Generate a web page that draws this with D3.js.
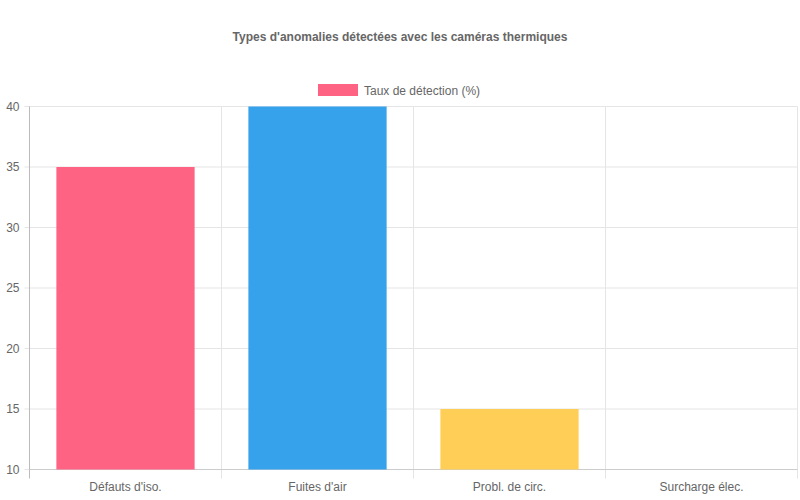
<!DOCTYPE html>
<html><head><meta charset="utf-8">
<script src="https://cdn.jsdelivr.net/npm/d3@7"></script>
<style>body{margin:0;background:#fff}svg{display:block}text{font-family:"Liberation Sans",Arial,sans-serif}</style>
</head><body><svg id="c" width="800" height="500"></svg>
<script>
const categories = ["Défauts d'iso.", "Fuites d'air", "Probl. de circ.", "Surcharge élec."];
const values = [35, 40, 15, 10];
const colors = ["#FF6384", "#36A2EB", "#FFCE56", "#4BC0C0"];
const yTicks = [10, 15, 20, 25, 30, 35, 40];
const title = "Types d'anomalies détectées avec les caméras thermiques";
const legendLabel = "Taux de détection (%)";

const svg = d3.select("#c");
const L = 29.5, R = 797.5, T = 106.5, B = 469.5;
const x = d3.scaleBand().domain(categories).range([L, R]);
const y = d3.scaleLinear().domain([10, 40]).range([B, T]);

// grid
const g = svg.append("g");
yTicks.forEach(t => {
  g.append("line").attr("x1", L - 5).attr("x2", R).attr("y1", y(t)).attr("y2", y(t))
    .attr("stroke", "#e5e5e5").attr("stroke-width", 1);
});
categories.forEach((c, i) => {
  const xx = x(c) + x.bandwidth();
  g.append("line").attr("x1", xx).attr("x2", xx).attr("y1", T).attr("y2", B + 9)
    .attr("stroke", "#e5e5e5").attr("stroke-width", 1);
});
g.append("line").attr("x1", L).attr("x2", L).attr("y1", T).attr("y2", B + 9).attr("stroke", "#bbb");
g.append("line").attr("x1", L).attr("x2", R).attr("y1", B).attr("y2", B).attr("stroke", "#ccc");

// bars
const bw = x.bandwidth() * 0.72;
svg.append("g").selectAll("rect").data(values).join("rect")
  .attr("x", (d, i) => x(categories[i]) + (x.bandwidth() - bw) / 2)
  .attr("width", bw)
  .attr("y", d => y(d))
  .attr("height", d => B - y(d))
  .attr("fill", (d, i) => colors[i]);

// y labels
svg.append("g").selectAll("text").data(yTicks).join("text")
  .attr("x", L - 10).attr("y", d => y(d)).attr("dy", "0.35em")
  .attr("text-anchor", "end").attr("font-size", 12).attr("fill", "#666").text(d => d);

// x labels
svg.append("g").selectAll("text").data(categories).join("text")
  .attr("x", d => x(d) + x.bandwidth() / 2).attr("y", 491)
  .attr("text-anchor", "middle").attr("font-size", 12).attr("fill", "#666").text(d => d);

// title
svg.append("text").attr("x", 400).attr("y", 41).attr("text-anchor", "middle")
  .attr("font-size", 12).attr("font-weight", "bold").attr("fill", "#666").text(title);

// legend
svg.append("rect").attr("x", 318).attr("y", 84).attr("width", 40).attr("height", 12).attr("fill", colors[0]);
svg.append("text").attr("x", 364).attr("y", 94.5).attr("font-size", 12).attr("fill", "#666").text(legendLabel);
</script></body></html>
